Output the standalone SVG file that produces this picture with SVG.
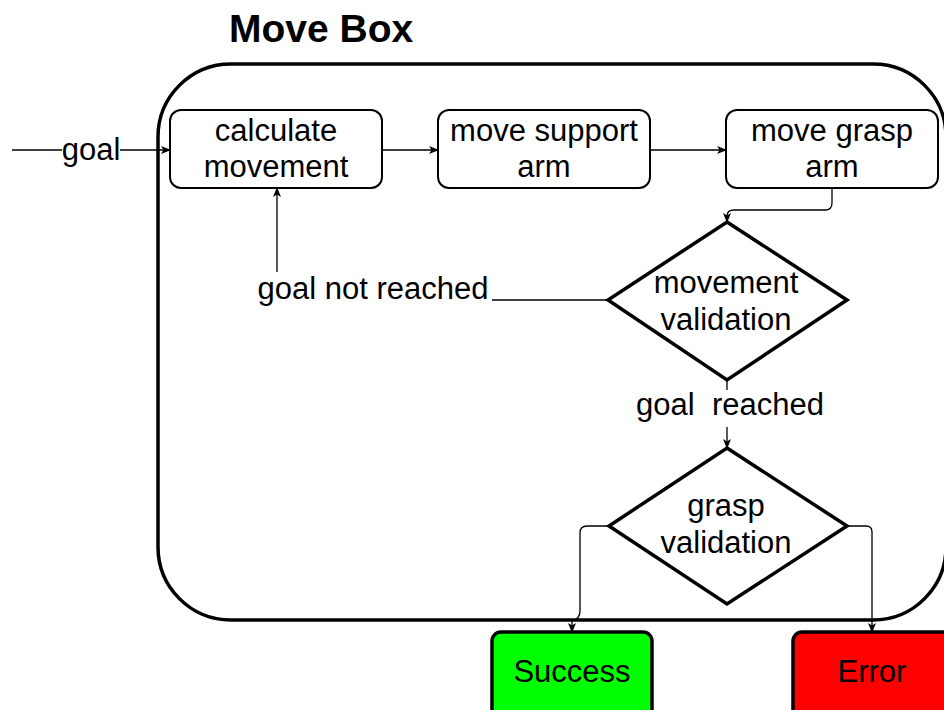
<svg xmlns="http://www.w3.org/2000/svg" width="944" height="710" viewBox="0 0 944 710">
  <defs>
    <marker id="arrow" viewBox="0 0 10 8" refX="9" refY="4" markerWidth="10" markerHeight="8" markerUnits="userSpaceOnUse" orient="auto">
      <path d="M0,0 L10,4 L0,8 L2.5,4 Z" fill="#000"/>
    </marker>
    <style>
      text { font-family: "Liberation Sans", Arial, Helvetica, sans-serif; font-size: 31px; fill: #000; text-anchor: middle; }
      .title { font-size: 39px; font-weight: bold; text-anchor: start; }
      .step { fill: #fff; stroke: #000; stroke-width: 2; }
      .decision { fill: #fff; stroke: #000; stroke-width: 3.5; stroke-linejoin: miter; }
      .end { stroke: #000; stroke-width: 3.5; }
      .edge { fill: none; stroke: #000; stroke-width: 1.3; }
      .arrowed { marker-end: url(#arrow); }
      .label-bg { fill: #fff; }
    </style>
  </defs>

  <rect width="944" height="710" fill="#fff"/>

  <!-- container -->
  <g id="move-box">
    <text class="title" x="229" y="42">Move Box</text>
    <rect x="158" y="64" width="788" height="556" rx="73" ry="73" fill="none" stroke="#000" stroke-width="3.5"/>
  </g>

  <!-- connectors -->
  <g id="connectors">
    <path class="edge arrowed" d="M12,150 H170"/>
    <path class="edge arrowed" d="M382,150 H438"/>
    <path class="edge arrowed" d="M650,150 H726"/>
    <path class="edge arrowed" d="M832,188 V203 Q832,210 825,210 H734 Q727,210 727,216 V222"/>
    <path class="edge arrowed" d="M608,300 H277 V188"/>
    <path class="edge arrowed" d="M727,380 V448"/>
    <path class="edge arrowed" d="M609,526 H587 Q580,526 580,533 V611 Q580,619 572,621 V632"/>
    <path class="edge arrowed" d="M847,526 H866 Q872,526 872,532 V632"/>

    <g id="label-goal">
      <rect class="label-bg" x="62" y="134" width="58" height="32"/>
      <text x="91" y="160">goal</text>
    </g>
    <g id="label-not-reached">
      <rect class="label-bg" x="252" y="272" width="240" height="36"/>
      <text x="373" y="299">goal not reached</text>
    </g>
    <g id="label-reached">
      <rect class="label-bg" x="630" y="390" width="200" height="37"/>
      <text x="730" y="415" xml:space="preserve">goal  reached</text>
    </g>
  </g>

  <g id="calculate-movement">
    <rect class="step" x="170" y="110" width="212" height="78" rx="11"/>
    <text x="276" y="141">calculate</text>
    <text x="276" y="177">movement</text>
  </g>

  <g id="move-support-arm">
    <rect class="step" x="438" y="110" width="212" height="78" rx="11"/>
    <text x="544" y="141">move support</text>
    <text x="544" y="177">arm</text>
  </g>

  <g id="move-grasp-arm">
    <rect class="step" x="726" y="110" width="212" height="78" rx="11"/>
    <text x="832" y="141">move grasp</text>
    <text x="832" y="177">arm</text>
  </g>

  <g id="movement-validation">
    <polygon class="decision" points="727,222 847,300 727,380 608,300"/>
    <text x="726" y="293">movement</text>
    <text x="726" y="330">validation</text>
  </g>

  <g id="grasp-validation">
    <polygon class="decision" points="727,448 847,526 727,604 609,526"/>
    <text x="726" y="516">grasp</text>
    <text x="726" y="553">validation</text>
  </g>

  <g id="success">
    <rect class="end" x="492" y="632" width="160" height="90" rx="9" fill="#00ff00"/>
    <text x="572" y="682">Success</text>
  </g>

  <g id="error">
    <rect class="end" x="793" y="632" width="165" height="90" rx="9" fill="#ff0000"/>
    <text x="872" y="682">Error</text>
  </g>
</svg>
